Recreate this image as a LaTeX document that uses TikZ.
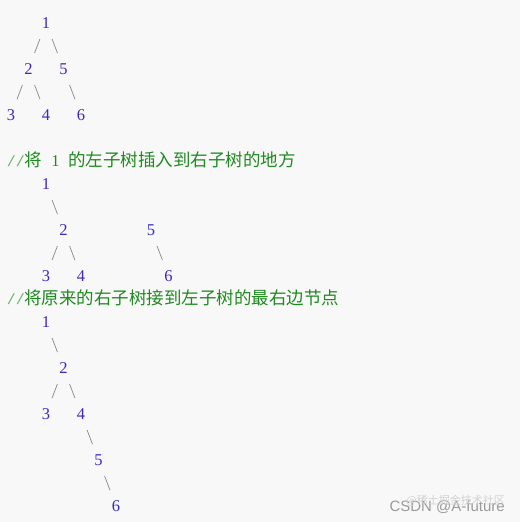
\documentclass[tikz,border=0pt]{standalone}
\usepackage{fontspec}
\newfontfamily\digitfont{Liberation Serif}
\newfontfamily\codefont{Liberation Mono}
\newfontfamily\cjk{Noto Sans CJK SC}
\newfontfamily\markfont{Liberation Sans}
\definecolor{page back}{HTML}{F8F8F8}
\definecolor{num blue}{HTML}{3A27C6}
\definecolor{branch gray}{HTML}{8C8C8C}
\definecolor{note green}{HTML}{1F8A1F}
\definecolor{mark gray}{HTML}{9A9A9A}
\def\lift{0.26}
\tikzset{
  note/.style={text=note green, inner sep=0pt, anchor=base west},
  stamp/.style={inner sep=0pt, anchor=base east}
  }
\tikzstyle{vertex}=[text=num blue, inner sep=0pt, font=\digitfont\fontsize{16.5}{16.5}\selectfont]
\tikzstyle{edge} = [draw, branch gray, line width=0.75pt, shorten >=17pt, shorten <=17pt]

\begin{document}
\begin{tikzpicture}[x=8.75pt, y=-23pt]
   \fill[page back] (-11pt,23pt) rectangle (509pt,-499pt);
   \useasboundingbox (-11pt,23pt) rectangle (509pt,-499pt);

   % first tree
   \node[vertex] (a1) at (4,0) {1};
   \node[vertex] (a2) at (2,2) {2};
   \node[vertex] (a5) at (6,2) {5};
   \node[vertex] (a3) at (0,4) {3};
   \node[vertex] (a4) at (4,4) {4};
   \node[vertex] (a6) at (8,4) {6};

   \path[edge] (a1.center) -- (a2.center);
   \path[edge] (a1.center) -- (a5.center);
   \path[edge] (a2.center) -- (a3.center);
   \path[edge] (a2.center) -- (a4.center);
   \path[edge] (a5.center) -- (a6.center);

   % first comment
   \node[note, text=note green!65, font=\codefont\fontsize{15}{15}\selectfont] (n1) at (-0.5,6+\lift) {//};
   \node[note, font=\cjk\fontsize{17.5}{17.5}\selectfont] (n2) at (1.5,6+\lift) {将};
   \node[note, font=\digitfont\fontsize{16.5}{16.5}\selectfont] (n3) at (4.6,6+\lift) {1};
   \node[note, font=\cjk\fontsize{17.5}{17.5}\selectfont] (n4) at (6.5,6+\lift) {的左子树插入到右子树的地方};

   % second tree
   \node[vertex] (b1) at (4,7) {1};
   \node[vertex] (b2) at (6,9) {2};
   \node[vertex] (b5) at (16,9) {5};
   \node[vertex] (b3) at (4,11) {3};
   \node[vertex] (b4) at (8,11) {4};
   \node[vertex] (b6) at (18,11) {6};

   \path[edge] (b1.center) -- (b2.center);
   \path[edge] (b2.center) -- (b3.center);
   \path[edge] (b2.center) -- (b4.center);
   \path[edge] (b5.center) -- (b6.center);

   % second comment
   \node[note, text=note green!65, font=\codefont\fontsize{15}{15}\selectfont] (m1) at (-0.5,12+\lift) {//};
   \node[note, font=\cjk\fontsize{17.5}{17.5}\selectfont] (m2) at (1.5,12+\lift) {将原来的右子树接到左子树的最右边节点};

   % third tree
   \node[vertex] (c1) at (4,13) {1};
   \node[vertex] (c2) at (6,15) {2};
   \node[vertex] (c3) at (4,17) {3};
   \node[vertex] (c4) at (8,17) {4};
   \node[vertex] (c5) at (10,19) {5};
   \node[vertex] (c6) at (12,21) {6};

   \path[edge] (c1.center) -- (c2.center);
   \path[edge] (c2.center) -- (c3.center);
   \path[edge] (c2.center) -- (c4.center);
   \path[edge] (c4.center) -- (c5.center);
   \path[edge] (c5.center) -- (c6.center);

   % watermarks
   \node[stamp, text=mark gray, font=\markfont\fontsize{15}{15}\selectfont] (w1) at (494pt,-488pt) {CSDN @A-future};
   \node[stamp, text=mark gray!45, font=\cjk\fontsize{11}{11}\selectfont] (w2) at (494pt,-481pt) {@稀土掘金技术社区};
\end{tikzpicture}
\end{document}
